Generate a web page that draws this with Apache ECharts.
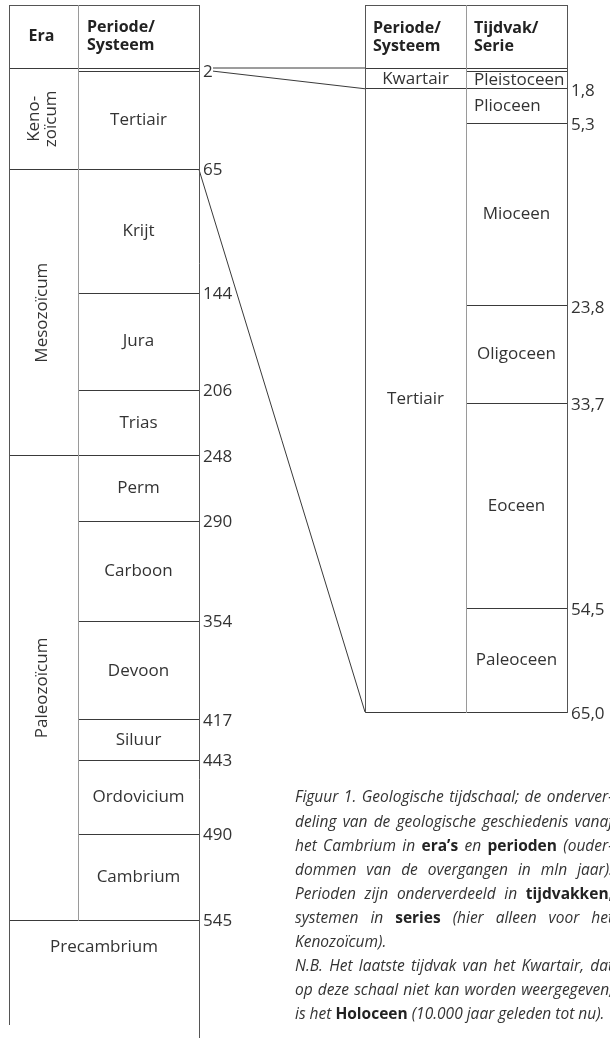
<!DOCTYPE html>
<html lang="nl"><head><meta charset="utf-8"><title>Geologische tijdschaal</title>
<script src="https://cdn.jsdelivr.net/npm/echarts@6.0.0/dist/echarts.min.js"></script>
<style>html,body{margin:0;padding:0;background:#fff;}#chart{width:610px;height:1038px;}</style>
</head><body><div id="chart"></div>
<script>
// ================= data =================
const leftHeaders = ['Era', 'Periode/\nSysteem'];
const eraNames = ['Keno-\nzoïcum', 'Mesozoïcum', 'Paleozoïcum'];
const eraBounds = [0, 65, 248, 545];                       // mln jaar
const periodNames = ['Tertiair', 'Krijt', 'Jura', 'Trias', 'Perm', 'Carboon', 'Devoon', 'Siluur', 'Ordovicium', 'Cambrium'];
const periodBounds = [2, 65, 144, 206, 248, 290, 354, 417, 443, 490, 545];
const precambrianName = 'Precambrium';

const rightHeaders = ['Periode/\nSysteem', 'Tijdvak/\nSerie'];
const kenoPeriodNames = ['Kwartair', 'Tertiair'];
const kenoPeriodBounds = [0, 1.8, 65.0];
const epochNames = ['Pleistoceen', 'Plioceen', 'Mioceen', 'Oligoceen', 'Eoceen', 'Paleoceen'];
const epochBounds = [0.01, 1.8, 5.3, 23.8, 33.7, 54.5, 65.0];
const epochBoundLabels = ['', '1,8', '5,3', '23,8', '33,7', '54,5', '65,0'];

// links between the two tables: [age on left table, age on right table]
const links = [[0, 0], [2, 1.8], [65, 65.0]];

const captionLines = [
  'Figuur 1. Geologische tijdschaal; de onderver-',
  'deling van de geologische geschiedenis vanaf',
  'het Cambrium in **era\u2019s** en **perioden** (ouder-',
  'dommen van de overgangen in mln jaar).',
  'Perioden zijn onderverdeeld in **tijdvakken,**',
  'systemen in **series** (hier alleen voor het',
  'Kenozoïcum).',
  'N.B. Het laatste tijdvak van het Kwartair, dat',
  'op deze schaal niet kan worden weergegeven,',
  'is het **Holoceen** (10.000 jaar geleden tot nu).'
];
const captionParagraphEnds = [6, 9];

// ================= styles / layout =================
const FONT = "'Open Sans', 'Noto Sans', sans-serif";
const TXT = '#333';
const DARK = '#3a3a3a';
const MID = '#555';
const LIGHT = '#9a9a9a';
const FS = 17;
const LMIN = -40.3, LMAX = 619.8, L_LEFT_END = 611.5;
const RMIN = -6.693, RMAX = 65;
const ERA_X = 69 / 190;     // column split in the left table
const RX = 0.5;             // column split in the right table
const linkStartGap = [14, 14, 0];

function crisp(v) { return Math.round(v - 0.5) + 0.5; }

function buildLeft() {
  const s = [];
  s.push({t: 'h', x0: 0, x1: 1, a: LMIN, c: MID});
  s.push({t: 'h', x0: 0, x1: 1, a: 0, c: DARK});
  periodBounds.forEach(a => s.push({t: 'h', x0: eraBounds.includes(a) ? 0 : ERA_X, x1: 1, a, c: DARK}));
  s.push({t: 'v', x: 0, a0: LMIN, a1: L_LEFT_END, c: MID});
  s.push({t: 'v', x: ERA_X, a0: LMIN, a1: eraBounds[eraBounds.length - 1], c: LIGHT});
  s.push({t: 'v', x: 1, a0: LMIN, a1: LMAX, c: MID});
  periodBounds.forEach(a => s.push({t: 'txt', x: 1, a, dx: 4, dy: 1, text: String(a), align: 'left'}));
  s.push({t: 'txt', x: ERA_X / 2, a: LMIN / 2, dx: -2, text: leftHeaders[0], bold: true});
  s.push({t: 'txt', x: ERA_X, a: LMIN / 2, dx: 9, text: leftHeaders[1], bold: true, align: 'left'});
  periodNames.forEach((n, i) => s.push({t: 'txt', x: (ERA_X + 1) / 2, a: (periodBounds[i] + periodBounds[i + 1]) / 2, text: n}));
  s.push({t: 'txt', x: 0.5, a: eraBounds[eraBounds.length - 1], dy: 27, text: precambrianName});
  eraNames.forEach((n, i) => s.push({t: 'txt', x: ERA_X / 2, a: (eraBounds[i] + eraBounds[i + 1]) / 2, dx: -1, text: n, rot: true}));
  return s;
}

function buildRight() {
  const s = [];
  s.push({t: 'h', x0: 0, x1: 1, a: RMIN, c: MID});
  s.push({t: 'h', x0: 0, x1: 1, a: 0, dy: -3, c: DARK});
  s.push({t: 'h', x0: RX, x1: 1, a: epochBounds[0], c: DARK});
  epochBounds.slice(1).forEach((a, i) => {
    s.push({t: 'h', x0: kenoPeriodBounds.includes(a) ? 0 : RX, x1: 1, a, c: DARK});
    s.push({t: 'txt', x: 1, a, dx: 4, dy: 2, text: epochBoundLabels[i + 1], align: 'left'});
  });
  s.push({t: 'v', x: 0, a0: RMIN, a1: RMAX, c: MID});
  s.push({t: 'v', x: RX, a0: RMIN, a1: RMAX, c: LIGHT});
  s.push({t: 'v', x: 1, a0: RMIN, a1: RMAX, c: MID});
  s.push({t: 'txt', x: 0, a: RMIN / 2, dx: 8, dy: -1, text: rightHeaders[0], bold: true, align: 'left'});
  s.push({t: 'txt', x: RX, a: RMIN / 2, dx: 8, dy: -1, text: rightHeaders[1], bold: true, align: 'left'});
  kenoPeriodNames.forEach((n, i) => s.push({t: 'txt', x: RX / 2, a: (kenoPeriodBounds[i] + kenoPeriodBounds[i + 1]) / 2, dy: -1, text: n}));
  epochNames.forEach((n, i) => {
    const left = i < 2;
    s.push({t: 'txt', x: left ? RX : (RX + 1) / 2, dx: left ? 8 : 0, a: (epochBounds[i] + epochBounds[i + 1]) / 2, text: n, align: left ? 'left' : 'center'});
  });
  return s;
}

function makeRender(specs) {
  return function (params, api) {
    const d = specs[params.dataIndex];
    if (d.t === 'h') {
      const p0 = api.coord([d.x0, d.a]), p1 = api.coord([d.x1, d.a]);
      const y = crisp(p0[1] + (d.dy || 0));
      return {type: 'line', shape: {x1: Math.round(p0[0]), y1: y, x2: Math.round(p1[0]) + 1, y2: y}, style: {stroke: d.c, lineWidth: 1}};
    }
    if (d.t === 'v') {
      const p0 = api.coord([d.x, d.a0]), p1 = api.coord([d.x, d.a1]);
      const x = crisp(p0[0]);
      return {type: 'line', shape: {x1: x, y1: Math.round(p0[1]), x2: x, y2: Math.round(p1[1]) + 1}, style: {stroke: d.c, lineWidth: 1}};
    }
    const p = api.coord([d.x, d.a]);
    return {
      type: 'text', x: p[0] + (d.dx || 0), y: p[1] + (d.dy || 0),
      rotation: d.rot ? Math.PI / 2 : 0,
      style: {
        text: d.text, fill: d.bold ? '#222' : TXT,
        font: (d.bold ? 'bold 16px ' : 'normal ' + FS + 'px ') + FONT,
        align: d.align || 'center', verticalAlign: 'middle', lineHeight: d.bold ? 18 : 17
      }
    };
  };
}

const leftSpecs = buildLeft();
const rightSpecs = buildRight();

const chart = echarts.init(document.getElementById('chart'), null, {renderer: 'canvas'});
chart.setOption({
  animation: false,
  backgroundColor: '#fff',
  grid: [
    {left: 9, width: 190, top: 5, bottom: 1},
    {left: 365, width: 202, top: 5, bottom: 326}
  ],
  xAxis: [
    {type: 'value', gridIndex: 0, min: 0, max: 1, show: false},
    {type: 'value', gridIndex: 1, min: 0, max: 1, show: false}
  ],
  yAxis: [
    {type: 'value', gridIndex: 0, min: LMIN, max: LMAX, inverse: true, show: false},
    {type: 'value', gridIndex: 1, min: RMIN, max: RMAX, inverse: true, show: false}
  ],
  series: [
    {type: 'custom', xAxisIndex: 0, yAxisIndex: 0, silent: true, clip: false,
     data: leftSpecs.map(s => [s.x !== undefined ? s.x : s.x0, s.a !== undefined ? s.a : s.a0]),
     renderItem: makeRender(leftSpecs)},
    {type: 'custom', xAxisIndex: 1, yAxisIndex: 1, silent: true, clip: false,
     data: rightSpecs.map(s => [s.x !== undefined ? s.x : s.x0, s.a !== undefined ? s.a : s.a0]),
     renderItem: makeRender(rightSpecs)}
  ]
});

// ---- connector lines between the tables (through both grids' scales) ----
const graphics = links.map((lk, i) => {
  const p0 = chart.convertToPixel({gridIndex: 0}, [1, lk[0]]);
  const p1 = chart.convertToPixel({gridIndex: 1}, [0, lk[1]]);
  let y1 = p1[1];
  if (lk[1] === 0) y1 -= 3;
  return {type: 'line', silent: true,
    shape: {x1: p0[0] + linkStartGap[i], y1: lk[0] === 0 ? y1 : p0[1], x2: p1[0], y2: y1},
    style: {stroke: DARK, lineWidth: 1}};
});

// ---- caption, justified ----
const CAP_X = 295, CAP_R = 613, CAP_Y = 798, CAP_LH = 24.1, CAP_FS = 15.5;
const CAP_FONT = "'Open Sans', 'Noto Sans', sans-serif";
const mctx = document.createElement('canvas').getContext('2d');
function capFont(bold) { return (bold ? 'normal bold ' : 'italic normal ') + CAP_FS + 'px ' + CAP_FONT; }
function measure(t, bold) { mctx.font = capFont(bold); return mctx.measureText(t).width; }
captionLines.forEach((line, li) => {
  const words = line.split(' ').map(w => {
    const b = /^\*\*.*\*\*$/.test(w);
    const t = b ? w.slice(2, -2) : w;
    return {t, b, w: measure(t, b)};
  });
  const total = words.reduce((s, w) => s + w.w, 0);
  let gap = measure(' ', false);
  if (!captionParagraphEnds.includes(li) && words.length > 1) gap = Math.max(2.5, (CAP_R - CAP_X - total) / (words.length - 1));
  let x = CAP_X;
  const y = CAP_Y + li * CAP_LH;
  words.forEach(w => {
    graphics.push({type: 'text', silent: true, x, y,
      style: {text: w.t, font: capFont(w.b), fill: w.b ? '#222' : TXT, align: 'left', verticalAlign: 'middle'}});
    x += w.w + gap;
  });
});
chart.setOption({graphic: graphics});
</script></body></html>
